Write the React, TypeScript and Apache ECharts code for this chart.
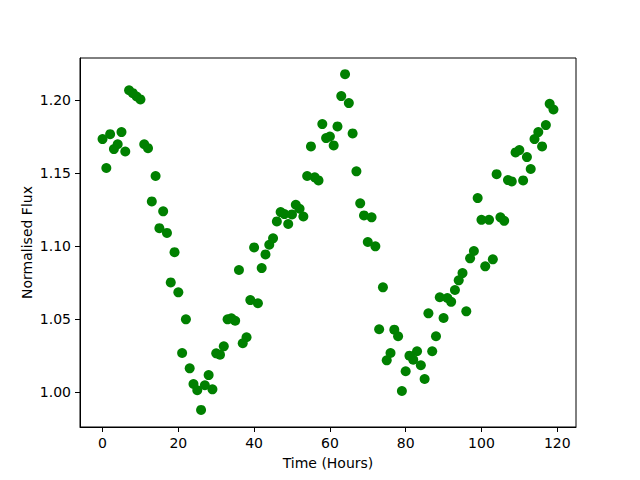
import React, { useEffect, useRef } from "react";
import * as echarts from "echarts";

const hours: number[] = Array.from({ length: 120 }, (_, i) => i);
const flux: number[] = [
  1.1735, 1.1537, 1.1769, 1.1667, 1.170, 1.1783, 1.165, 1.207, 1.205, 1.2027,
  1.2007, 1.170, 1.1673, 1.1308, 1.1482, 1.1125, 1.124, 1.1092, 1.0753, 1.096,
  1.0685, 1.0269, 1.05, 1.0164, 1.0057, 1.0014, 0.9879, 1.0048, 1.0118, 1.002,
  1.0267, 1.0258, 1.0315, 1.05, 1.0507, 1.049, 1.0838, 1.0336, 1.0377, 1.0632,
  1.0993, 1.061, 1.0851, 1.0945, 1.1011, 1.1055, 1.1171, 1.1235, 1.1221, 1.1153,
  1.1219, 1.1285, 1.1258, 1.1205, 1.1482, 1.1685, 1.1473, 1.1452, 1.1838, 1.1742,
  1.1753, 1.1692, 1.1822, 1.203, 1.218, 1.1982, 1.1774, 1.1514, 1.1295, 1.1212,
  1.103, 1.1199, 1.100, 1.0432, 1.0719, 1.0219, 1.0269, 1.0429, 1.0384, 1.0009,
  1.0144, 1.0251, 1.0223, 1.0281, 1.0185, 1.0091, 1.0541, 1.0281, 1.0384, 1.0651,
  1.0509, 1.0646, 1.062, 1.0701, 1.0767, 1.0817, 1.0555, 1.0918, 1.0968, 1.1331,
  1.1182, 1.0863, 1.1182, 1.0911, 1.1495, 1.1199, 1.1175, 1.1454, 1.1445, 1.1644,
  1.166, 1.1452, 1.1612, 1.153, 1.1735, 1.1783, 1.1685, 1.1831, 1.1977, 1.1938,
];
const xTicks: number[] = [0, 20, 40, 60, 80, 100, 120];
const yTicks: number[] = [1.0, 1.05, 1.1, 1.15, 1.2];

export default function App() {
  const ref = useRef<HTMLDivElement>(null);
  useEffect(() => {
    if (!ref.current) return;
    const chart = echarts.init(ref.current, null, { renderer: "svg" });
    const font = "DejaVu Sans";
    chart.setOption({
      animation: false,
      backgroundColor: "#ffffff",
      textStyle: { fontFamily: font },
      grid: {
        left: 80,
        right: 64,
        top: 58,
        bottom: 53,
        show: true,
        borderColor: "#000",
        borderWidth: 1,
        backgroundColor: "transparent",
      },
      xAxis: {
        type: "value",
        min: -5.95,
        max: 124.95,
        name: "Time (Hours)",
        nameLocation: "middle",
        nameGap: 29,
        nameTextStyle: { color: "#000", fontSize: 14, fontFamily: font },
        axisLine: { show: true, onZero: false, lineStyle: { color: "#000", width: 1 } },
        axisTick: { show: true, inside: false, length: 5, lineStyle: { color: "#000" }, customValues: xTicks },
        axisLabel: { color: "#000", fontSize: 14, margin: 9, fontFamily: font, customValues: xTicks },
        splitLine: { show: false },
      },
      yAxis: {
        type: "value",
        min: 0.9762,
        max: 1.2291,
        name: "Normalised Flux",
        nameLocation: "middle",
        nameGap: 46,
        nameMoveOverlap: false,
        nameTextStyle: { color: "#000", fontSize: 14, fontFamily: font },
        axisLine: { show: true, onZero: false, lineStyle: { color: "#000", width: 1 } },
        axisTick: { show: true, inside: false, length: 5, lineStyle: { color: "#000" }, customValues: yTicks },
        axisLabel: {
          color: "#000",
          fontSize: 14,
          margin: 9,
          fontFamily: font,
          customValues: yTicks,
          formatter: (v: number) => v.toFixed(2),
        },
        splitLine: { show: false },
      },
      series: [
        {
          type: "scatter",
          data: hours.map((h, i) => [h, flux[i]]),
          symbol: "circle",
          symbolSize: 10,
          itemStyle: { color: "#008000", opacity: 1 },
        },
      ],
    });
    return () => chart.dispose();
  }, []);
  return <div ref={ref} style={{ width: 640, height: 480, position: "absolute", left: 0, top: 0 }} />;
}
